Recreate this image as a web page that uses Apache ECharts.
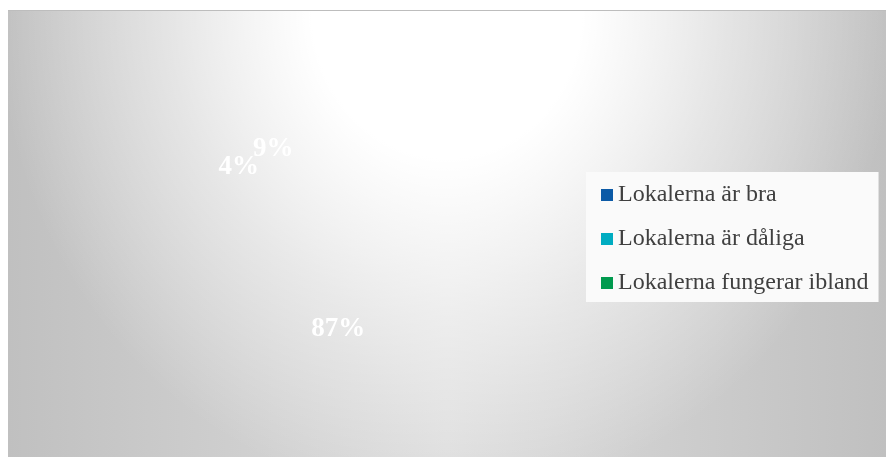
<!DOCTYPE html>
<html>
<head>
<meta charset="utf-8">
<script src="https://cdn.jsdelivr.net/npm/echarts@6/dist/echarts.min.js"></script>
<style>
html,body{margin:0;padding:0;background:#fff;}
#wrap{position:absolute;left:8px;top:10px;width:878px;height:447px;border-top:1px solid #bdbdbd;box-sizing:border-box;
background:
 radial-gradient(ellipse 450px 490px at 50% 0, rgba(255,255,255,1) 0%, rgba(255,255,255,1) 30%, rgba(255,255,255,0.5) 62%, rgba(255,255,255,0) 100%),
 linear-gradient(to right, #c0c0c0 0%, #dcdcdc 50%, #c0c0c0 100%);}
#chart{width:878px;height:446px;}
</style>
</head>
<body>
<div id="wrap"><div id="chart"></div></div>
<script>
const categories = ['Lokalerna är bra', 'Lokalerna är dåliga', 'Lokalerna fungerar ibland'];
const values = [87, 4, 9];
const legendColors = ['#0c5aa6', '#00acc1', '#009a4e'];

const chart = echarts.init(document.getElementById('chart'), null, {renderer: 'canvas'});
chart.setOption({
  animation: false,
  backgroundColor: 'transparent',
  legend: {
    orient: 'vertical',
    left: 578,
    top: 161,
    backgroundColor: '#fafafa',
    padding: [11, 10, 7, 15],
    itemWidth: 12,
    itemHeight: 12,
    itemGap: 20,
    icon: 'rect',
    selectedMode: false,
    textStyle: {fontFamily: 'Liberation Serif', fontSize: 24, color: '#404040', lineHeight: 24, padding: [0, 0, 0, 0]},
    data: categories.map((c, i) => ({name: c, itemStyle: {color: legendColors[i], opacity: 1}}))
  },
  series: [{
    type: 'pie',
    center: [292, 230],
    radius: 186,
    startAngle: 90,
    clockwise: true,
    avoidLabelOverlap: false,
    labelLayout: {hideOverlap: false},
    emphasis: {disabled: true},
    labelLine: {show: false},
    label: {
      show: true,
      position: 'inside',
      formatter: '{c}%',
      fontFamily: 'Liberation Serif',
      fontWeight: 'bold',
      fontSize: 27,
      color: '#ffffff'
    },
    itemStyle: {color: 'rgba(0,0,0,0)', borderWidth: 0},
    data: categories.map((c, i) => ({name: c, value: values[i]}))
  }]
});
</script>
</body>
</html>
